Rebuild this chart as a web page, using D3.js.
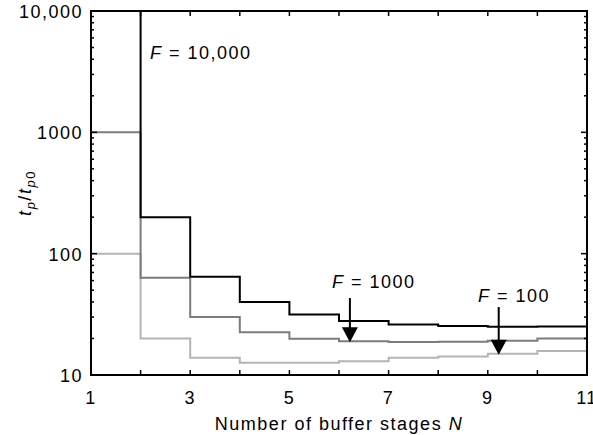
<!DOCTYPE html>
<html>
<head>
<meta charset="utf-8">
<script src="https://cdn.jsdelivr.net/npm/d3@7"></script>
<style>
  body { margin: 0; background: #fff; }
  svg { display: block; font-family: "Liberation Sans", Arial, sans-serif; }
  text { letter-spacing: 1.5px; }
</style>
</head>
<body>
<div id="chart"></div>
<script>
// stages N (each value holds from N to N+1)
const stages = [1, 2, 3, 4, 5, 6, 7, 8, 9, 10];
const f10000 = [10000, 200, 64.6, 40, 31.5, 27.8, 26.1, 25.3, 25.0, 25.1];
const f1000 = [1000, 63.2, 30, 22.5, 19.9, 19.0, 18.7, 18.8, 19.2, 20.0];
const f100 = [100, 20, 13.9, 12.6, 12.6, 13.0, 13.9, 14.2, 15.0, 15.8];
const xTicks = [1, 3, 5, 7, 9, 11];
const yTicks = [10, 100, 1000, 10000];
const yTickLabels = ['10', '100', '1000', '10,000'];

const width = 593;
const height = 435;
const marginLeft = 91;
const marginRight = 6;
const marginTop = 11;
const marginBottom = 60;
const fs = 18;

const x = d3.scaleLinear().domain([1, 11]).range([marginLeft, width - marginRight]);
const y = d3.scaleLog().domain([10, 10000]).range([height - marginBottom, marginTop]);

const $svg = d3.select('#chart').append('svg')
  .attr('width', width)
  .attr('height', height);

// series
const series = [
  { vals: f100, color: '#b4b4b4' },
  { vals: f1000, color: '#7c7c7c' },
  { vals: f10000, color: '#000' }
];

const line = d3.line()
  .x(d => x(d[0]))
  .y(d => y(Math.min(d[1], 10000)))
  .curve(d3.curveStepAfter);

series.forEach(s => {
  const pts = stages.map((n, i) => [n, s.vals[i]]);
  pts.push([11, s.vals[s.vals.length - 1]]);
  $svg.append('path')
    .attr('d', line(pts))
    .attr('fill', 'none')
    .attr('stroke', s.color)
    .attr('stroke-width', 2);
});

// minor log ticks
const minor = [];
[10, 100, 1000].forEach(dec => {
  for (let k = 2; k <= 9; k++) minor.push(dec * k);
});

const $ax = $svg.append('g').attr('stroke', '#000');
const bottom = height - marginBottom;
const right = width - marginRight;

// x ticks (inside, top and bottom)
d3.range(1, 12).forEach(n => {
  $ax.append('line').attr('x1', x(n)).attr('x2', x(n))
    .attr('y1', bottom).attr('y2', bottom - 5).attr('stroke-width', 1.5);
  $ax.append('line').attr('x1', x(n)).attr('x2', x(n))
    .attr('y1', marginTop).attr('y2', marginTop + 5).attr('stroke-width', 1.5);
});

// y ticks (inside, left and right)
yTicks.forEach(v => {
  $ax.append('line').attr('x1', marginLeft).attr('x2', marginLeft + 6)
    .attr('y1', y(v)).attr('y2', y(v)).attr('stroke-width', 1.5);
  $ax.append('line').attr('x1', right).attr('x2', right - 6)
    .attr('y1', y(v)).attr('y2', y(v)).attr('stroke-width', 1.5);
});
minor.forEach(v => {
  $ax.append('line').attr('x1', marginLeft).attr('x2', marginLeft + 3)
    .attr('y1', y(v)).attr('y2', y(v)).attr('stroke-width', 1.5);
  $ax.append('line').attr('x1', right).attr('x2', right - 3)
    .attr('y1', y(v)).attr('y2', y(v)).attr('stroke-width', 1.5);
});

// frame
$svg.append('rect')
  .attr('x', marginLeft).attr('y', marginTop)
  .attr('width', right - marginLeft).attr('height', bottom - marginTop)
  .attr('fill', 'none').attr('stroke', '#000').attr('stroke-width', 2);

// tick labels
$svg.append('g').selectAll('text')
  .data(xTicks)
  .join('text')
  .attr('x', d => x(d))
  .attr('y', bottom + 29)
  .attr('text-anchor', 'middle')
  .attr('font-size', fs)
  .text(d => d);

$svg.append('g').selectAll('text')
  .data(yTicks)
  .join('text')
  .attr('x', marginLeft - 8)
  .attr('y', d => y(d) + 7)
  .attr('text-anchor', 'end')
  .attr('font-size', fs)
  .text((d, i) => yTickLabels[i]);

// axis titles
const $xt = $svg.append('text')
  .attr('x', 339)
  .attr('y', 430)
  .attr('text-anchor', 'middle')
  .attr('font-size', fs);
$xt.append('tspan').text('Number of buffer stages ');
$xt.append('tspan').attr('font-style', 'italic').text('N');

const $yt = $svg.append('text')
  .attr('transform', `translate(31, ${(marginTop + bottom) / 2}) rotate(-90)`)
  .attr('text-anchor', 'middle')
  .attr('font-size', fs);
$yt.append('tspan').attr('font-style', 'italic').text('t');
$yt.append('tspan').attr('font-style', 'italic').attr('font-size', 13).attr('dy', 4).text('p');
$yt.append('tspan').attr('dy', -4).text('/');
$yt.append('tspan').attr('font-style', 'italic').text('t');
$yt.append('tspan').attr('font-size', 13).attr('font-style', 'italic').attr('dy', 4).text('p');
$yt.append('tspan').attr('font-size', 13).text('0');

// annotations
function label(xPix, yPix, str) {
  const t = $svg.append('text')
    .attr('x', xPix)
    .attr('y', yPix)
    .attr('font-size', fs);
  t.append('tspan').attr('font-style', 'italic').text('F');
  t.append('tspan').text(' = ' + str);
  return t;
}
label(150, 59, '10,000');
label(332, 288, '1000');
label(478, 302, '100');

function arrow(nv, yTop, yTip) {
  const cx = x(nv);
  $svg.append('line')
    .attr('x1', cx).attr('x2', cx)
    .attr('y1', yTop).attr('y2', yTip - 10)
    .attr('stroke', '#000').attr('stroke-width', 2);
  $svg.append('path')
    .attr('d', `M${cx - 8},${yTip - 15}L${cx + 8},${yTip - 15}L${cx},${yTip}Z`)
    .attr('fill', '#000');
}
arrow(6.22, 298, y(19.0) + 1);
arrow(9.22, 307, y(15.0) + 1);
</script>
</body>
</html>
